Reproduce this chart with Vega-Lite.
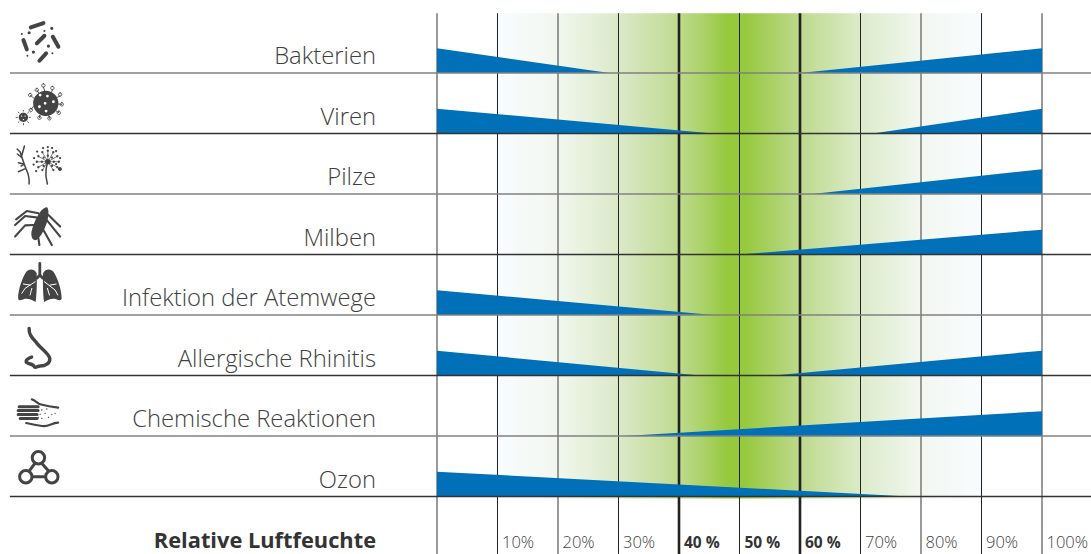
{
"$schema":"https://vega.github.io/schema/vega-lite/v6.json",
"width":1091,"height":554,"padding":0,"autosize":{"type":"none"},"background":"white",
"config":{"view":{"stroke":null}},
"datasets":{
"band":[{"x":10,"x2":90,"y":7.99,"y2":-0.033}],
"vert":[
{"pct":0,"kind":"grey","y":7.99,"y2":-0.95},{"pct":10,"kind":"thin","y":7.99,"y2":-0.95},{"pct":20,"kind":"grey","y":7.99,"y2":-0.95},{"pct":30,"kind":"thin","y":7.99,"y2":-0.95},{"pct":40,"kind":"bold","y":7.99,"y2":-0.95},{"pct":50,"kind":"thin","y":7.99,"y2":-0.95},{"pct":60,"kind":"bold","y":7.99,"y2":-0.95},{"pct":70,"kind":"thin","y":7.99,"y2":-0.95},{"pct":80,"kind":"grey","y":7.99,"y2":-0.95},{"pct":90,"kind":"thin","y":7.99,"y2":-0.95},{"pct":100,"kind":"grey","y":7.99,"y2":-0.95}],
"wedges":[
{"w":"Bakterien links","pct":0,"top":7.41,"base":7},{"w":"Bakterien links","pct":28.5,"top":7,"base":7},
{"w":"Bakterien rechts","pct":60,"top":7,"base":7},{"w":"Bakterien rechts","pct":100,"top":7.41,"base":7},
{"w":"Viren links","pct":0,"top":6.41,"base":6},{"w":"Viren links","pct":45.7,"top":6,"base":6},
{"w":"Viren rechts","pct":72,"top":6,"base":6},{"w":"Viren rechts","pct":100,"top":6.41,"base":6},
{"w":"Pilze rechts","pct":62,"top":5,"base":5},{"w":"Pilze rechts","pct":100,"top":5.41,"base":5},
{"w":"Milben rechts","pct":50,"top":4,"base":4},{"w":"Milben rechts","pct":100,"top":4.41,"base":4},
{"w":"Infektion links","pct":0,"top":3.41,"base":3},{"w":"Infektion links","pct":45.7,"top":3,"base":3},
{"w":"Rhinitis links","pct":0,"top":2.41,"base":2},{"w":"Rhinitis links","pct":43.5,"top":2,"base":2},
{"w":"Rhinitis rechts","pct":55.6,"top":2,"base":2},{"w":"Rhinitis rechts","pct":100,"top":2.41,"base":2},
{"w":"Chemische rechts","pct":31,"top":1,"base":1},{"w":"Chemische rechts","pct":100,"top":1.41,"base":1},
{"w":"Ozon links","pct":0,"top":0.41,"base":0},{"w":"Ozon links","pct":78,"top":0,"base":0}],
"horiz":[
{"x":-70.6,"x2":108.1,"y":7,"kind":"grey"},{"x":-70.6,"x2":108.1,"y":6,"kind":"dark"},{"x":-70.6,"x2":108.1,"y":5,"kind":"grey"},{"x":-70.6,"x2":108.1,"y":4,"kind":"dark"},{"x":-70.6,"x2":108.1,"y":3,"kind":"grey"},{"x":-70.6,"x2":108.1,"y":2,"kind":"dark"},{"x":-70.6,"x2":108.1,"y":1,"kind":"grey"},{"x":-70.6,"x2":108.1,"y":0,"kind":"dark"}],
"labels":[
{"name":"Bakterien","x":-10.08,"y":7},{"name":"Viren","x":-10.08,"y":6},{"name":"Pilze","x":-10.08,"y":5},{"name":"Milben","x":-10.08,"y":4},{"name":"Infektion der Atemwege","x":-10.08,"y":3},{"name":"Allergische Rhinitis","x":-10.08,"y":2},{"name":"Chemische Reaktionen","x":-10.08,"y":1},{"name":"Ozon","x":-10.08,"y":0}],
"title":[{"name":"Relative Luftfeuchte","x":-10.08,"y":-0.851}],
"ticks":[{"t":"10%","pct":10,"y":-0.851},{"t":"20%","pct":20,"y":-0.851},{"t":"30%","pct":30,"y":-0.851},{"t":"70%","pct":70,"y":-0.851},{"t":"80%","pct":80,"y":-0.851},{"t":"90%","pct":90,"y":-0.851},{"t":"100%","pct":100,"y":-0.851}],
"ticksBold":[{"t":"40 %","pct":40,"y":-0.851},{"t":"50 %","pct":50,"y":-0.851},{"t":"60 %","pct":60,"y":-0.851}],
"solid":[{"part":"vir","x":-65.6,"y":6.545},{"part":"fun","x":-65.6,"y":5.545},{"part":"mil","x":-65.6,"y":4.545},{"part":"lung","x":-65.6,"y":3.545}],
"strokes":[
{"part":"bak-rods","x":-65.6,"y":7.545},{"part":"bak-big","x":-65.6,"y":7.545},{"part":"bak-small","x":-65.6,"y":7.545},
{"part":"vir-spikes","x":-65.6,"y":6.545},{"part":"vir-holes","x":-65.6,"y":6.545},{"part":"vir-small-holes","x":-65.6,"y":6.545},
{"part":"fun-lines","x":-65.6,"y":5.545},{"part":"fun-spokes","x":-65.6,"y":5.545},{"part":"fun-dots","x":-65.6,"y":5.545},
{"part":"mil-legs","x":-65.6,"y":4.545},
{"part":"lung-trachea","x":-65.6,"y":3.545},{"part":"lung-bronchi","x":-65.6,"y":3.545},
{"part":"nose","x":-65.6,"y":2.545},
{"part":"hand-bars","x":-65.6,"y":1.545},{"part":"hand-line","x":-65.6,"y":1.545},{"part":"hand-dots","x":-65.6,"y":1.545},
{"part":"oz","x":-65.6,"y":0.545}]
},
"layer":[
{"data":{"name":"band"},"mark":{"type":"rect","fill":{"gradient":"linear","x1":0,"y1":0,"x2":1,"y2":0,"stops":[{"offset":0,"color":"#f8fcff"},{"offset":0.125,"color":"#f1f7ee"},{"offset":0.25,"color":"#dbe9c8"},{"offset":0.375,"color":"#bfda90"},{"offset":0.475,"color":"#96c93d"},{"offset":0.51,"color":"#96c93d"},{"offset":0.625,"color":"#bdd98c"},{"offset":0.75,"color":"#dcebc9"},{"offset":0.875,"color":"#f2f7f0"},{"offset":1,"color":"#f8fcff"}]}},
 "encoding":{"x":{"field":"x","type":"quantitative","scale":{"domain":[-72.231,108.099],"nice":false,"zero":false},"axis":null},"x2":{"field":"x2"},"y":{"field":"y","type":"quantitative","scale":{"domain":[-0.9504,8.207],"nice":false,"zero":false},"axis":null},"y2":{"field":"y2"}}},
{"data":{"name":"vert"},"mark":{"type":"rule"},
 "encoding":{"x":{"field":"pct","type":"quantitative","scale":{"domain":[-72.231,108.099],"nice":false,"zero":false},"axis":null},"y":{"field":"y","type":"quantitative","scale":{"domain":[-0.9504,8.207],"nice":false,"zero":false},"axis":null},"y2":{"field":"y2"},
 "color":{"field":"kind","type":"nominal","scale":{"domain":["grey","thin","bold"],"range":["#808080","#222222","#222222"]},"legend":null},
 "strokeWidth":{"field":"kind","type":"nominal","scale":{"type":"ordinal","domain":["grey","thin","bold"],"range":[1.6,1,2.6]},"legend":null}}},
{"data":{"name":"wedges"},"mark":{"type":"area","color":"#0070b8","opacity":1},
 "encoding":{"x":{"field":"pct","type":"quantitative","scale":{"domain":[-72.231,108.099],"nice":false,"zero":false},"axis":null},"y":{"field":"top","type":"quantitative","scale":{"domain":[-0.9504,8.207],"nice":false,"zero":false},"axis":null},"y2":{"field":"base"},"detail":{"field":"w"}}},
{"data":{"name":"horiz"},"mark":{"type":"rule","strokeWidth":1.3},
 "encoding":{"x":{"field":"x","type":"quantitative","scale":{"domain":[-72.231,108.099],"nice":false,"zero":false},"axis":null},"x2":{"field":"x2"},"y":{"field":"y","type":"quantitative","scale":{"domain":[-0.9504,8.207],"nice":false,"zero":false},"axis":null},
 "color":{"field":"kind","type":"nominal","scale":{"domain":["grey","dark"],"range":["#808080","#333333"]},"legend":null}}},
{"data":{"name":"labels"},"mark":{"type":"text","align":"right","baseline":"alphabetic","dy":-9,"font":"Open Sans","fontSize":23.8,"fontWeight":300,"color":"#404040"},
 "encoding":{"x":{"field":"x","type":"quantitative","scale":{"domain":[-72.231,108.099],"nice":false,"zero":false},"axis":null},"y":{"field":"y","type":"quantitative","scale":{"domain":[-0.9504,8.207],"nice":false,"zero":false},"axis":null},"text":{"field":"name"}}},
{"data":{"name":"title"},"mark":{"type":"text","align":"right","baseline":"alphabetic","font":"Open Sans","fontSize":21.8,"fontWeight":700,"color":"#333333"},
 "encoding":{"x":{"field":"x","type":"quantitative","scale":{"domain":[-72.231,108.099],"nice":false,"zero":false},"axis":null},"y":{"field":"y","type":"quantitative","scale":{"domain":[-0.9504,8.207],"nice":false,"zero":false},"axis":null},"text":{"field":"name"}}},
{"data":{"name":"ticks"},"mark":{"type":"text","align":"left","baseline":"alphabetic","dx":4.5,"font":"Open Sans","fontSize":16.5,"fontWeight":300,"color":"#404040"},
 "encoding":{"x":{"field":"pct","type":"quantitative","scale":{"domain":[-72.231,108.099],"nice":false,"zero":false},"axis":null},"y":{"field":"y","type":"quantitative","scale":{"domain":[-0.9504,8.207],"nice":false,"zero":false},"axis":null},"text":{"field":"t"}}},
{"data":{"name":"ticksBold"},"mark":{"type":"text","align":"left","baseline":"alphabetic","dx":5,"font":"Open Sans","fontSize":15.5,"fontWeight":700,"color":"#333333"},
 "encoding":{"x":{"field":"pct","type":"quantitative","scale":{"domain":[-72.231,108.099],"nice":false,"zero":false},"axis":null},"y":{"field":"y","type":"quantitative","scale":{"domain":[-0.9504,8.207],"nice":false,"zero":false},"axis":null},"text":{"field":"t"}}},
{"data":{"name":"solid"},"mark":{"type":"point","filled":true,"size":4,"opacity":1,"color":"#444444","strokeWidth":0},
 "encoding":{"x":{"field":"x","type":"quantitative","scale":{"domain":[-72.231,108.099],"nice":false,"zero":false},"axis":null},"y":{"field":"y","type":"quantitative","scale":{"domain":[-0.9504,8.207],"nice":false,"zero":false},"axis":null},
 "shape":{"field":"part","type":"nominal","legend":null,"scale":{"domain":["vir","fun","mil","lung"],"range":[
 "M-7 2.8a12.7 12.7 0 1 0 25.4 0a12.7 12.7 0 1 0 -25.4 0ZM-21.4 16.8a4.7 4.7 0 1 0 9.4 0a4.7 4.7 0 1 0 -9.4 0Z",
 "M4.9 .7a2.8 2.8 0 1 0 5.6 0a2.8 2.8 0 1 0 -5.6 0ZM17.8 8a2 2 0 1 0 4 0a2 2 0 1 0 -4 0Z",
 "M7 -14.300C11.500 -8 4 13 -3 18C-8 21 -10 13 -8 8C-6 0 1 -15 7 -14.300Z",
 "M-3.5 -9C-6 -14 -12 -13 -14 -10C-18 -4 -22 8 -22 16C-22 19 -19 18.5 -16 17C-12 16 -8 18 -4.5 20C-3.5 14 -3 0 -3.5 -9ZM3 -9C5.500 -14 11.500 -13 13.500 -10C17.500 -4 21.500 8 21.500 16C21.500 19 18.500 18.500 15.500 17C11.500 16 7.500 18 4 20C3 14 2.500 0 3 -9Z"
 ]}}}},
{"data":{"name":"strokes"},"mark":{"type":"point","filled":false,"size":4,"opacity":1,"strokeCap":"round","strokeJoin":"round"},
 "encoding":{"x":{"field":"x","type":"quantitative","scale":{"domain":[-72.231,108.099],"nice":false,"zero":false},"axis":null},"y":{"field":"y","type":"quantitative","scale":{"domain":[-0.9504,8.207],"nice":false,"zero":false},"axis":null},
 "shape":{"field":"part","type":"nominal","legend":null,"scale":{
 "domain":["bak-rods","bak-big","bak-small","vir-spikes","vir-holes","vir-small-holes","fun-lines","fun-spokes","fun-dots","mil-legs","lung-trachea","lung-bronchi","nose","hand-bars","hand-line","hand-dots","oz"],
 "range":[
 "M-9.3 -12.7L3.300 -17M-3.300 3.300L4.300 -4.300M12.700 -3.300L18.300 6.700M-16.700 0L-13.300 9.300M-.7 20.700L6 13.300",
 "M-11 -7.300h.01M11.700 -11.700h.01M8.300 6h.01M-6.700 12h.01",
 "M-18.300 -6h.01M4.300 -9h.01M-12.700 15.700h.01M12.300 13.300h.01",
 "M4.500 -9.800L3.300 -13.500M3.300 -16.800a1.700 1.700 0 1 0 .01 0ZM11.500 -8.500L12.300 -11M12.300 -14.200a1.700 1.700 0 1 0 .01 0ZM16 -2.700L20 -4.500M20 -7.700a1.700 1.700 0 1 0 .01 0ZM18.400 3.500L21.700 3.800M21.700 2.100a1.700 1.700 0 1 0 .01 0ZM15.500 10L18.700 12.200M18.700 10.500a1.700 1.700 0 1 0 .01 0ZM8.500 15.300L9.300 17.800M9.300 16.100a1.700 1.700 0 1 0 .01 0ZM0 14.500L-.7 17.200M-.7 15.500a1.700 1.700 0 1 0 .01 0ZM-6.500 5.500L-9.300 9.500M-9.300 7.800a1.700 1.700 0 1 0 .01 0ZM-6 -2L-10 -5.500M-10 -7.200a1.700 1.700 0 1 0 .01 0ZM-1 -7L-3.300 -10.500M-3.300 -12.200a1.700 1.700 0 1 0 .01 0ZM-16.700 10.500V9.800M-16.700 23.100V24.300M-22.800 16.800H-24M-10.800 16.800H-9.800M-21 12.500L-22 11.500M-12.500 21L-11.500 22M-12.500 12.500L-11.500 11.500M-21 21L-22 22",
 "M0 -5.500h.01M7.300 -4.500h.01M13.300 1.200h.01M5 2.800h.01M-.7 6.200h.01M6 10.500h.01",
 "M-18.500 15.500h.01M-15 15.500h.01M-16.700 19h.01",
 "M-11 23C-10.500 17 -12 12 -14.300 7.300C-16 3 -18 -3 -20 -9.300M-14.300 7.300L-21.700 10.700M-16.500 3L-21.700 1.700M-18.500 -3.500L-22.700 -7M-18.500 -5L-15.700 -15M-20 -9L-23 -12M-16 3L-19 5M7.300 23C6 18 5 15 6 8C6.500 5 7 3 7.700 .7",
 "M7.700 .7L18.700 .7M7.700 .7L17.200 -4.800M7.700 .7L13.200 -8.800M7.700 .7L7.700 -10.300M7.700 .7L2.200 -8.800M7.700 .7L-1.800 -4.800M7.700 .7L-3.300 .7M7.700 .7L-1.800 6.200M7.700 .7L2.200 9M7.700 .7L13.200 9M7.700 .7L17.200 6.200",
 "M13.700 .7h.01M11.900 -3.500h.01M7.700 -5.300h.01M3.500 -3.500h.01M1.700 .7h.01M3.500 4.900h.01M11.900 4.900h.01M18.700 .7h.01M17.200 -4.800h.01M13.200 -8.800h.01M7.700 -10.300h.01M2.200 -8.800h.01M-1.800 -4.800h.01M-3.300 .7h.01M-1.800 6.200h.01M2.200 9h.01M13.200 9h.01M17.200 6.200h.01M12 -13h.01M3 -13h.01M-3 -9.500h.01M-6 -3h.01M-6.500 3.500h.01M16 -10h.01M20 -3h.01M7.700 -14h.01M16 3h.01M-4 10h.01",
 "M-1.700 -8.200L-13.300 -10.500L-24 -2.200M-4 -4.200L-15 -5.500L-25 3.500M-6.700 3.500L-15 3.800L-25 15M8.300 -6.500L20 5M6.700 -1.500L20 15M3.300 8.500L11.700 23.500M-1.700 16.800L-.7 23.500",
 "M-.3 -18.700V-7M-.3 -7L-3 -4M-.3 -7L2.500 -4",
 "M-5 -.3L-15 6.300L-18.300 11.300M-10 3L-16.700 2M-8.300 6.300L-10 13M4.300 -.3L15 8L17.700 13M10 3L16 2M7.300 6.300L9.300 13",
 "M-11 -14.200C-11.500 -8 -8 -5 -3 1C2 7 9 11 9.700 16C10 21 5 23.500 0 23.500C-3 23.500 -4 26 -6 24C-7 21 -11 22 -13.500 20C-15 18 -12 15.500 -8.500 14.500",
 "M-21 3.700H-2M-22 7.500H-2M-22 11.500H-3M-20 15.500H-3",
 "M-8.300 -3.700C-5 -3 -2 1 1 1.500C6 3 12 4 18 4.500M-14 20C-8 21 -2 23 4 23C9 23 12 20 18 19.500",
 "M1.700 7h.01M6.700 6h.01M0 11.300h.01M5 10.300h.01M11.700 11.300h.01M1.700 15.300h.01M8.300 14.300h.01M15 10.300h.01M-1.700 14.300h.01",
 "M-7.900 -5.800a6.200 6.200 0 1 0 12.400 0a6.200 6.200 0 1 0 -12.400 0ZM-20.500 13.200a6.200 6.200 0 1 0 12.400 0a6.200 6.200 0 1 0 -12.400 0ZM5.500 13.200a6.200 6.200 0 1 0 12.400 0a6.200 6.200 0 1 0 -12.400 0ZM-8 13.200H5.500M-6 .8L-11 7.500M2.500 .8L8.500 7.500"
 ]}},
 "color":{"field":"part","type":"nominal","legend":null,"scale":{
 "domain":["bak-rods","bak-big","bak-small","vir-spikes","vir-holes","vir-small-holes","fun-lines","fun-spokes","fun-dots","mil-legs","lung-trachea","lung-bronchi","nose","hand-bars","hand-line","hand-dots","oz"],
 "range":["#444444","#444444","#444444","#444444","#ffffff","#ffffff","#444444","#444444","#444444","#444444","#444444","#ffffff","#444444","#444444","#444444","#444444","#444444"]}},
 "strokeWidth":{"field":"part","type":"nominal","legend":null,"scale":{"type":"ordinal",
 "domain":["bak-rods","bak-big","bak-small","vir-spikes","vir-holes","vir-small-holes","fun-lines","fun-spokes","fun-dots","mil-legs","lung-trachea","lung-bronchi","nose","hand-bars","hand-line","hand-dots","oz"],
 "range":[4,3.2,2,0.9,2.8,1.3,1.5,0.7,2.3,2.1,2.8,1,3.4,3,2.2,1.4,3]}}}}
],
"resolve":{"scale":{"color":"independent","strokeWidth":"independent","shape":"independent"}}
}
